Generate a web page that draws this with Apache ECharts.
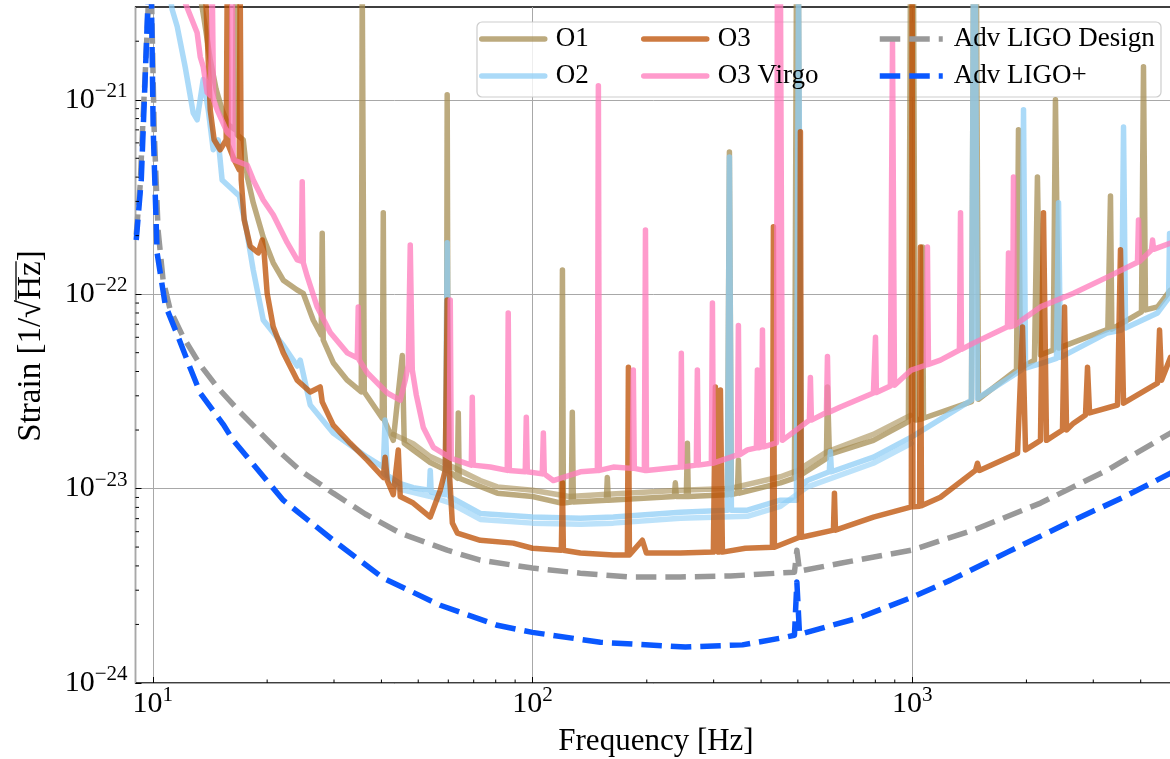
<!DOCTYPE html>
<html>
<head>
<meta charset="utf-8">
<script src="https://cdn.jsdelivr.net/npm/echarts@6/dist/echarts.min.js"></script>
<style>
html, body { margin: 0; padding: 0; background: #fff; }
#main { width: 1170px; height: 759px; }
</style>
</head>
<body>
<div id="main"></div>
<script>
// noise curves, [frequency Hz, strain 1/sqrt(Hz)]
const o1Data = [[13.16,4e-21],[13.65,2.58e-21],[14.16,1.61e-21],[14.68,1.13e-21],[15.22,8.88e-22],[15.79,7.44e-22],[16.48,7.01e-22],[16.58,4e-21],[16.68,6.6e-22],[17.30,6.22e-22],[17.73,4.01e-22],[18.38,2.95e-22],[19.53,1.96e-22],[20.75,1.45e-22],[22.05,1.18e-22],[24.0,1.05e-22],[24.89,1.01e-22],[26.44,7.36e-23],[27.76,6.17e-23],[27.93,2.06e-22],[28.1,5.81e-23],[29.86,4.44e-23],[32.5,3.61e-23],[35.4,3.14e-23],[35.6,4e-21],[36.05,3.14e-23],[40.2,2.30e-23],[40.45,2.62e-22],[40.7,2.25e-23],[42.98,1.77e-23],[45.4,4.84e-23],[45.94,1.71e-23],[48.5,1.58e-23],[53.78,1.36e-23],[59.3,1.24e-23],[59.6,1.06e-21],[60.0,1.24e-23],[63.4,1.13e-23],[63.75,2.45e-23],[64.1,1.13e-23],[80.8,9.47e-24],[100,9.1e-24],[119.1,8.42e-24],[119.9,1.33e-22],[120.6,8.42e-24],[126.5,8.52e-24],[127.3,2.47e-23],[128.1,8.52e-24],[156.5,8.71e-24],[157.4,1.14e-23],[158.4,8.71e-24],[236.4,9.1e-24],[237.8,1.07e-23],[239.3,9.1e-24],[254.2,9.1e-24],[255.8,1.71e-23],[257.3,9.1e-24],[326.1,9.3e-24],[330.1,5.39e-22],[334.1,9.3e-24],[346.5,9.47e-24],[348.6,1.40e-23],[350.7,9.47e-24],[449.8,1.07e-23],[489.8,1.13e-23],[495.7,4e-21],[501.9,4e-21],[507.8,1.17e-23],[594.6,1.43e-23],[598.3,3.33e-23],[605.4,1.50e-23],[790.7,1.77e-23],[977.7,2.21e-23],[989.7,4e-21],[1008,4e-21],[1020,2.25e-23],[1060,2.28e-23],[1065,1.75e-22],[1071,2.30e-23],[1433,2.80e-23],[1450,4e-21],[1477,4e-21],[1495,2.88e-23],[1883,4.07e-23],[1906,7.01e-22],[1929,4.17e-23],[2100,4.58e-23],[2138,4.01e-22],[2178,4.87e-23],[2353,5.16e-23],[2385,1.0e-21],[2430,5.28e-23],[3277,6.6e-23],[3330,3.2e-22],[3357,6.6e-23],[4019,8.1e-23],[4068,1.48e-21],[4118,8.3e-23],[4430,8.6e-23],[4793,1.05e-22],[5000,1.1e-22]];
// upper edge of the O1 band (second detector)
const o1EdgeData = [[42.98,1.90e-23],[48.5,1.70e-23],[53.78,1.46e-23],[60.7,1.31e-23],[72.86,1.10e-23],[80.8,1.02e-23],[100,9.8e-24],[125,9.1e-24],[157,9.35e-24],[245,9.8e-24],[330,1.0e-23],[450,1.15e-23],[500,1.24e-23],[594.6,1.54e-23],[790,1.9e-23],[990,2.38e-23]];

const o2Data = [[10.97,4e-21],[11.24,2.91e-21],[11.59,2.38e-21],[12.16,1.48e-21],[12.77,8.57e-22],[13.08,7.89e-22],[13.57,1.27e-21],[13.99,8.88e-22],[14.42,5.53e-22],[14.86,6.22e-22],[15.22,3.87e-22],[16.9,3.2e-22],[17.6,2.2e-22],[18.38,1.33e-22],[19.53,7.36e-23],[22.05,5.46e-23],[24.0,4.27e-23],[24.44,4.58e-23],[25.97,2.69e-23],[29.86,1.93e-23],[36.7,1.45e-23],[40.45,1.29e-23],[40.9,2.25e-23],[41.44,1.17e-23],[44.83,1.06e-23],[48.5,1.01e-23],[53.5,9.81e-24],[53.78,1.24e-23],[54.1,9.6e-24],[58.9,9.3e-24],[59.6,1.84e-22],[60.35,9.1e-24],[72.86,7.45e-24],[100,7.13e-24],[133.7,7.04e-24],[163.3,7.13e-24],[245.2,7.56e-24],[326.1,7.74e-24],[330.1,5.08e-22],[334.1,7.74e-24],[368.2,7.74e-24],[449.8,8.71e-24],[495.7,8.71e-24],[501.9,4e-21],[510.8,1.04e-23],[529.8,1.10e-23],[605,1.22e-23],[609,1.55e-23],[613,1.22e-23],[790.7,1.45e-23],[995,1.84e-23],[1433,2.85e-23],[1450,4e-21],[1468,4e-21],[1486,2.91e-23],[1941,4.07e-23],[1965,8.88e-22],[1989,4.17e-23],[2178,4.39e-23],[2400,4.67e-23],[2430,2.95e-22],[2459,4.73e-23],[3256,6.3e-23],[3561,6.54e-23],[3604,7.25e-22],[3648,6.7e-23],[4430,8.0e-23],[4737,9.56e-23],[4765,2.05e-22],[4800,1.05e-22],[5000,1.1e-22]];
// lower edge of the O2 band (second detector)
const o2EdgeData = [[40.45,1.2e-23],[44.83,9.9e-24],[53.5,9.13e-24],[60.35,8.47e-24],[72.86,6.94e-24],[100,6.64e-24],[133.7,6.55e-24],[163.3,6.64e-24],[245,7.04e-24],[368,7.2e-24],[450,8.1e-24],[530,1.02e-23],[790,1.35e-23],[995,1.71e-23]];

const o3Data = [[13.73,4e-21],[14.16,8.88e-22],[14.50,6.22e-22],[15.04,5.53e-22],[15.60,6.22e-22],[15.70,4e-21],[15.79,5.87e-22],[16.37,4.91e-22],[16.88,4.36e-22],[16.98,4e-21],[17.09,3.87e-22],[17.40,2.41e-22],[18.05,1.76e-22],[18.95,1.63e-22],[19.41,1.90e-22],[19.65,1.60e-22],[20.0,1.01e-22],[20.75,6.79e-23],[22.05,5.00e-23],[24.0,3.61e-23],[25.97,3.14e-23],[27.59,3.33e-23],[27.93,2.79e-23],[29.86,2.12e-23],[33.10,1.71e-23],[36.7,1.40e-23],[40.45,1.14e-23],[40.9,1.45e-23],[41.44,1.10e-23],[42.98,9.30e-24],[44.3,1.58e-23],[44.83,9.1e-24],[48.5,8.42e-24],[53.78,7.13e-24],[57.15,9.81e-24],[58.9,1.24e-23],[59.6,9.33e-23],[60.35,1.24e-23],[61.5,6.65e-24],[63.4,5.90e-24],[72.86,5.42e-24],[89.0,5.24e-24],[100,4.93e-24],[119.1,4.82e-24],[119.9,1.07e-23],[120.6,4.82e-24],[133.7,4.66e-24],[163.3,4.55e-24],[177.8,4.55e-24],[178.9,4.21e-23],[180,4.55e-24],[194.7,5.42e-24],[199.5,4.66e-24],[245.2,4.66e-24],[299.5,4.71e-24],[303.2,3.33e-23],[308.8,4.71e-24],[312.6,3.21e-23],[316.4,4.71e-24],[363.7,4.93e-24],[428.5,4.99e-24],[431.1,2.22e-22],[433.7,4.99e-24],[504.7,5.62e-24],[507.8,6.84e-22],[510.8,5.62e-24],[620.4,6.11e-24],[624.2,9.47e-24],[628,6.11e-24],[790.7,7.13e-24],[995,8.05e-24],[1000,4e-21],[1005,8.05e-24],[1046,8.1e-24],[1052,1.75e-22],[1058,8.15e-24],[1187,9.02e-24],[1468,1.24e-23],[1486,1.35e-23],[1504,1.24e-23],[1895,1.52e-23],[1953,6.78e-23],[1989,1.58e-23],[2178,1.77e-23],[2218,2.62e-22],[2259,1.77e-23],[2489,2.00e-23],[2520,8.59e-23],[2551,2.00e-23],[2662,2.17e-23],[2862,2.39e-23],[2897,4.21e-23],[2933,2.45e-23],[3475,2.69e-23],[3538,1.69e-22],[3604,2.75e-23],[4430,3.49e-23],[4484,6.54e-23],[4539,3.61e-23],[4793,4.73e-23],[5000,4.9e-23]];

const virgoData = [[11.59,4e-21],[13.08,2.21e-21],[13.33,1.66e-21],[13.57,1.48e-21],[13.9,1.09e-21],[14.2,1.05e-21],[14.33,4e-21],[14.45,1.0e-21],[14.77,8.88e-22],[15.70,6.79e-22],[16.1,6.5e-22],[16.18,4e-21],[16.28,4.91e-22],[17.73,4.6e-22],[18.38,3.87e-22],[19.53,3.05e-22],[20.75,2.56e-22],[22.59,1.84e-22],[24.0,1.50e-22],[24.6,1.48e-22],[24.74,3.79e-22],[24.9,1.45e-22],[25.52,1.23e-22],[27.1,8.58e-23],[29.32,6.35e-23],[32.5,4.99e-23],[34.54,4.7e-23],[34.75,8.58e-23],[34.96,4.58e-23],[36.7,3.94e-23],[41.44,3.10e-23],[44.83,2.85e-23],[46.22,3.61e-23],[47.07,4.32e-23],[47.64,1.79e-22],[48.23,4.07e-23],[49.42,3.03e-23],[51.56,2.06e-23],[54.8,1.63e-23],[60.35,1.45e-23],[60.72,9.33e-23],[61.1,1.43e-23],[69.0,1.32e-23],[69.4,2.95e-23],[69.8,1.32e-23],[77.41,1.29e-23],[85.8,1.24e-23],[86.3,8.01e-23],[86.9,1.24e-23],[95.7,1.22e-23],[96.3,2.33e-23],[96.9,1.22e-23],[106.1,1.19e-23],[106.8,1.93e-23],[107.4,1.19e-23],[113.4,1.10e-23],[133.7,1.22e-23],[148.2,1.24e-23],[149.1,1.18e-21],[150.0,1.24e-23],[163.3,1.29e-23],[183.2,1.27e-23],[184.3,4.07e-23],[185.4,1.27e-23],[197.1,1.24e-23],[198.4,2.14e-22],[199.6,1.24e-23],[245.2,1.29e-23],[246.6,4.97e-23],[248.0,1.29e-23],[270.1,1.32e-23],[271.8,4.07e-23],[273.4,1.32e-23],[295.9,1.35e-23],[297.8,9.0e-23],[299.5,1.35e-23],[346.5,1.49e-23],[348.6,6.90e-23],[350.7,1.49e-23],[368.2,1.58e-23],[388.9,1.62e-23],[391.2,4.07e-23],[393.6,1.62e-23],[400.9,1.64e-23],[403.4,6.54e-23],[405.8,1.64e-23],[439.1,1.72e-23],[441.6,4e-21],[449.8,4e-21],[455.2,1.77e-23],[536.3,2.25e-23],[539.5,3.73e-23],[542.8,2.25e-23],[594.6,2.46e-23],[598.3,4.78e-23],[602,2.46e-23],[647.2,2.63e-23],[790.7,3.10e-23],[800.7,6.0e-23],[805,3.12e-23],[876.3,3.37e-23],[887.6,1.97e-21],[898.4,3.40e-23],[995,4.07e-23],[1090,4.32e-23],[1097,1.75e-22],[1104,4.35e-23],[1187,4.58e-23],[1332,5.16e-23],[1341,2.62e-22],[1349,5.2e-23],[1450,5.6e-23],[1783,6.79e-23],[1794,1.63e-22],[1805,6.8e-23],[1840,6.85e-23],[1849,4.01e-22],[1858,6.9e-23],[2178,8.6e-23],[2662,1.01e-22],[3256,1.22e-22],[3923,1.46e-22],[3947,2.41e-22],[3971,1.47e-22],[4272,1.69e-22],[4298,1.90e-22],[4324,1.7e-22],[4793,1.83e-22],[5000,1.9e-22]];

const designData = [[9.04,2.02e-22],[9.26,3.65e-22],[9.43,8.35e-22],[9.60,1.71e-21],[9.78,4e-21],[9.90,4e-21],[10.08,7.0e-22],[10.32,2.14e-22],[10.64,1.18e-22],[11.11,8.29e-23],[12.02,6.02e-23],[13.33,4.32e-23],[14.77,3.33e-23],[16.98,2.47e-23],[21.26,1.58e-23],[24.44,1.24e-23],[29.86,9.47e-24],[36.26,7.4e-24],[44.83,5.90e-24],[59.6,4.82e-24],[72.86,4.28e-24],[100,3.90e-24],[133.7,3.67e-24],[181,3.51e-24],[245.2,3.51e-24],[332,3.55e-24],[441.6,3.67e-24],[489.8,3.71e-24],[497,4.82e-24],[505,3.76e-24],[647,4.13e-24],[995,4.82e-24],[1450,6.11e-24],[2178,8.42e-24],[3256,1.24e-23],[4793,1.93e-23],[5000,2.0e-23]];

const plusData = [[9.04,1.90e-22],[9.32,3.87e-22],[9.54,1.27e-21],[9.75,4e-21],[9.90,4e-21],[10.02,7.01e-22],[10.26,1.63e-22],[10.78,8.80e-23],[11.66,6.02e-23],[12.54,4.17e-23],[13.33,3.10e-23],[15.32,2.14e-23],[16.28,1.77e-23],[22.05,8.71e-24],[29.86,5.42e-24],[40.45,3.46e-24],[57.15,2.51e-24],[80.8,1.98e-24],[100,1.82e-24],[150.9,1.62e-24],[252.7,1.53e-24],[357.2,1.57e-24],[449.8,1.70e-24],[489.8,1.76e-24],[497,3.31e-24],[505,1.78e-24],[717.5,2.15e-24],[995,2.75e-24],[1262,3.38e-24],[1783,4.71e-24],[2662,6.88e-24],[3604,9.02e-24],[4793,1.20e-23],[5000,1.25e-23]];

const seriesNames = ['O1', 'O2', 'O3', 'O3 Virgo', 'Adv LIGO Design', 'Adv LIGO+'];
const xMinorTicks = [20, 30, 40, 50, 60, 70, 80, 90, 200, 300, 400, 500, 600, 700, 800, 900, 2000, 3000, 4000];
const yMinorTicks = [2e-24, 3e-24, 4e-24, 5e-24, 6e-24, 7e-24, 8e-24, 9e-24, 2e-23, 3e-23, 4e-23, 5e-23, 6e-23, 7e-23, 8e-23, 9e-23, 2e-22, 3e-22, 4e-22, 5e-22, 6e-22, 7e-22, 8e-22, 9e-22, 2e-21];

const X_MIN = 9, X_MAX = 5000, Y_MIN = 0.9995e-24, Y_MAX = 3e-21;
const FONT = '"Liberation Serif", "DejaVu Serif", serif';

const chart = echarts.init(document.getElementById('main'), null, { renderer: 'canvas' });

function powLabel(v) {
  const e = Math.round(Math.log10(v));
  if (Math.abs(v / Math.pow(10, e) - 1) > 1e-6) return '';
  return '{b|10}{s|' + String(e).replace('-', '\u2212') + '}';
}
const powRich = {
  b: { fontFamily: FONT, fontSize: 30, color: '#000' },
  s: { fontFamily: FONT, fontSize: 21, color: '#000', padding: [0, 0, 17, 0] }
};

function curve(name, data, color, opacity, dash) {
  return {
    name: name,
    type: 'line',
    data: data,
    showSymbol: false,
    symbol: 'none',
    clip: true,
    lineStyle: {
      color: color, width: 5.5, opacity: opacity,
      type: dash ? [20.5, 9] : 'solid',
      cap: dash ? 'butt' : 'round', join: 'round'
    },
    emphasis: { disabled: true }
  };
}

function minorTick(data, vertical) {
  return {
    type: 'custom',
    silent: true,
    z: 5,
    data: data,
    renderItem: function (params, api) {
      const p = api.coord([api.value(0), api.value(1)]);
      return {
        type: 'line',
        shape: vertical
          ? { x1: p[0], y1: p[1], x2: p[0], y2: p[1] - 3.5 }
          : { x1: p[0], y1: p[1], x2: p[0] + 3.5, y2: p[1] },
        style: { stroke: '#000', lineWidth: 1 }
      };
    }
  };
}

// y label with overline over Hz, measured with a canvas
const Y_TITLE_FONT = '33px ' + FONT;
const mctx = document.createElement('canvas').getContext('2d');
mctx.font = Y_TITLE_FONT;
const yTitle = 'Strain [1/\u221AHz]';
const wAll = mctx.measureText(yTitle).width;
const wPre = mctx.measureText('Strain [1/\u221A').width;
const wHz = mctx.measureText('Strain [1/\u221AHz').width;

const legendCommon = {
  orient: 'vertical', top: 24, itemWidth: 63, itemHeight: 30, itemGap: 7, padding: 0,
  selectedMode: false,
  itemStyle: { opacity: 0 },
  lineStyle: { width: 5.5 },
  textStyle: { fontFamily: FONT, fontSize: 27, color: '#000', lineHeight: 30, padding: [0, 0, 0, 6] }
};

const option = {
  animation: false,
  backgroundColor: '#fff',
  grid: {
    left: 135.5, top: 7, right: -7.5, bottom: 76,
    outerBoundsMode: 'none', containLabel: false,
    show: true, borderColor: '#000', borderWidth: 1.3
  },
  xAxis: {
    type: 'log', logBase: 10, min: X_MIN, max: X_MAX,
    axisLine: { show: false },
    axisTick: { show: true, inside: true, length: 6, lineStyle: { color: '#000', width: 1 } },
    splitLine: { show: true, lineStyle: { color: '#a8a8a8', width: 1 } },
    axisLabel: { formatter: powLabel, rich: powRich, margin: 2, showMinLabel: false, showMaxLabel: false, hideOverlap: false }
  },
  yAxis: {
    type: 'log', logBase: 10, min: Y_MIN, max: Y_MAX,
    axisLine: { show: false },
    axisTick: { show: true, inside: true, length: 6, lineStyle: { color: '#000', width: 1 } },
    splitLine: { show: true, lineStyle: { color: '#a8a8a8', width: 1 } },
    axisLabel: { formatter: powLabel, rich: powRich, margin: 8, showMinLabel: false, showMaxLabel: false, hideOverlap: false }
  },
  legend: [
    Object.assign({}, legendCommon, { left: 479, data: ['O1', 'O2'] }),
    Object.assign({}, legendCommon, { left: 641, data: ['O3', 'O3 Virgo'] }),
    Object.assign({}, legendCommon, { left: 877, data: ['Adv LIGO Design', 'Adv LIGO+'] })
  ],
  graphic: [
    {
      type: 'rect', z: 3, silent: true,
      shape: { x: 477, y: 22, width: 684, height: 75, r: 5 },
      style: { fill: 'rgba(255,255,255,0.8)', stroke: 'rgba(200,200,200,0.9)', lineWidth: 1.2 }
    },
    {
      type: 'text', z: 10, x: 656, y: 742,
      style: { text: 'Frequency [Hz]', font: '31px ' + FONT, fill: '#000',
               textAlign: 'center', align: 'center', textVerticalAlign: 'middle', verticalAlign: 'middle' }
    },
    {
      type: 'group', x: 31, y: 346, rotation: Math.PI / 2, z: 10,
      children: [
        { type: 'text', x: 0, y: 0,
          style: { text: yTitle, font: Y_TITLE_FONT, fill: '#000',
                   textAlign: 'center', align: 'center', textVerticalAlign: 'middle', verticalAlign: 'middle' } },
        { type: 'line',
          shape: { x1: -wAll / 2 + wPre - 1, y1: -15, x2: -wAll / 2 + wHz, y2: -15 },
          style: { stroke: '#000', lineWidth: 1.3 } }
      ]
    }
  ],
  series: [
    curve(seriesNames[0], o1Data, '#a68e53', 0.75, false),
    curve(seriesNames[0], o1EdgeData, '#a68e53', 0.6, false),
    curve(seriesNames[1], o2Data, '#8fcef6', 0.75, false),
    curve(seriesNames[1], o2EdgeData, '#8fcef6', 0.6, false),
    curve(seriesNames[2], o3Data, '#bc4e00', 0.75, false),
    curve(seriesNames[3], virgoData, '#ff7abb', 0.75, false),
    curve(seriesNames[4], designData, '#999999', 1, true),
    curve(seriesNames[5], plusData, '#0a58ff', 1, true),
    minorTick(xMinorTicks.map(function (f) { return [f, Y_MIN]; }), true),
    minorTick(yMinorTicks.map(function (s) { return [X_MIN, s]; }), false)
  ]
};

chart.setOption(option);
</script>
</body>
</html>
